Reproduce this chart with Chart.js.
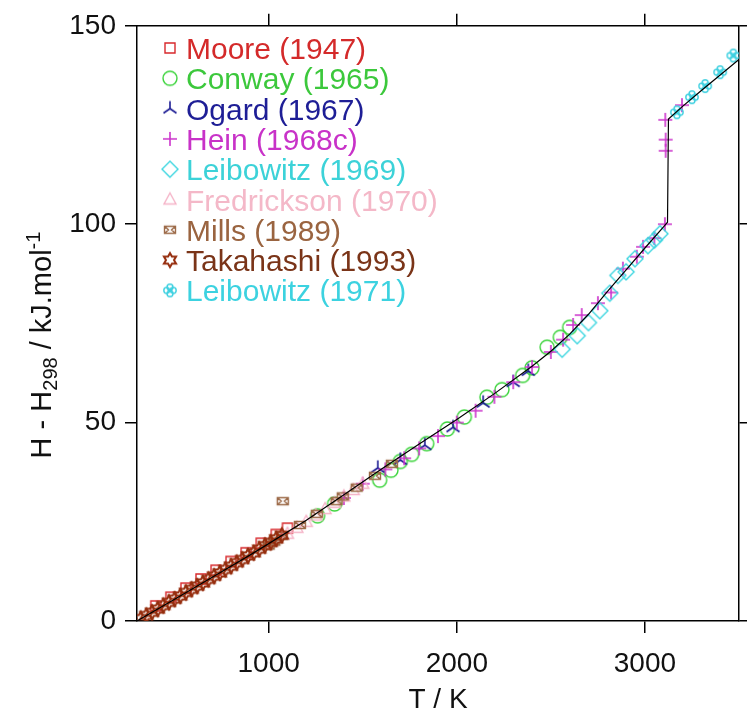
<!DOCTYPE html>
<html>
<head>
<meta charset="utf-8">
<script src="https://cdn.jsdelivr.net/npm/chart.js@4.4.1/dist/chart.umd.min.js"></script>
<style>
  html, body { margin: 0; padding: 0; background: #fff; }
  #wrap { width: 747px; height: 715px; }
</style>
</head>
<body>
<div id="wrap"><canvas id="chart" width="747" height="715"></canvas></div>
<script>
// ---- data (T in K, H - H298 in kJ/mol) ----
const fitT = [300, 500, 700, 900, 1000, 1200, 1400, 1600, 1800, 2000, 2200, 2400, 2500, 2600, 2700, 2800, 2900, 3000, 3100, 3120, 3125, 3200, 3300, 3400, 3500];
const fitH = [0, 5.5, 11, 16.6, 19.5, 25.4, 31.8, 38.3, 44.6, 50.8, 57.3, 64.2, 68.0, 72.3, 77.3, 83.0, 88.5, 94.0, 99.4, 100.5, 126.5, 129.7, 133.7, 137.6, 141.5];

const mooreT = [400, 480, 560, 640, 720, 800, 880, 960, 1040, 1100];
const mooreH = [3.8, 6.0, 8.3, 10.6, 12.8, 15.0, 17.2, 19.6, 21.8, 23.4];

const conwayT = [1260, 1350, 1590, 1650, 1700, 1760, 1840, 1950, 2040, 2160, 2240, 2350, 2400, 2480, 2550, 2600];
const conwayH = [26.5, 29.5, 35.5, 38.0, 40.2, 42.0, 44.7, 48.4, 51.4, 56.4, 58.3, 61.9, 63.8, 69.0, 71.5, 74.0];

const ogardT = [1580, 1700, 1830, 1980, 2140, 2300, 2380];
const ogardH = [38.6, 40.6, 44.3, 48.8, 55.0, 60.2, 63.0];

const heinT = [1400, 1500, 1620, 1720, 1800, 1900, 2000, 2100, 2200, 2300, 2400, 2500, 2565, 2618, 2664, 2750, 2820, 2883, 2957, 2990, 3050, 3106, 3110, 3110, 3108, 3197];
const heinH = [31.0, 34.6, 38.2, 41.0, 43.5, 46.6, 50.0, 53.0, 56.5, 60.2, 64.0, 67.8, 70.9, 74.6, 77.1, 80.1, 82.8, 88.8, 91.8, 94.3, 96.5, 100.0, 118.5, 121.3, 126.3, 130.0];

const leib69T = [2560, 2640, 2700, 2760, 2813, 2856, 2900, 2947, 3016, 3050, 3080];
const leib69H = [68.5, 71.9, 75.2, 78.2, 82.6, 87.1, 88.0, 91.3, 94.6, 96.0, 97.6];

const fredT = [1100, 1150, 1200, 1250, 1300, 1350, 1400, 1450, 1500];
const fredH = [22.0, 23.5, 25.0, 26.6, 28.2, 29.8, 31.4, 33.0, 34.6];

const millsT = [1000, 1030, 1070, 1075, 1166, 1256, 1361, 1394, 1468, 1565, 1655];
const millsH = [19.0, 20.0, 21.5, 30.2, 24.2, 27.0, 30.2, 31.4, 33.6, 36.6, 39.6];

const takaT = [320, 350, 380, 410, 440, 470, 500, 530, 560, 590, 620, 650, 680, 710, 740, 770, 800, 830, 860, 890, 920, 950, 980, 1010, 1040, 1070];
const takaH = [0.6, 1.4, 2.2, 3.0, 3.9, 4.7, 5.5, 6.3, 7.2, 8.0, 8.8, 9.6, 10.5, 11.3, 12.1, 13.0, 13.8, 14.7, 15.5, 16.4, 17.2, 18.1, 19.0, 19.8, 20.7, 21.6];

const leib71T = [3170, 3250, 3320, 3400, 3470];
const leib71H = [128.2, 132.0, 134.8, 138.3, 142.5];

const xTicks = [1000, 2000, 3000];
const yTicks = [0, 50, 100, 150];

const FONT = 'Liberation Sans, Arial, Helvetica, sans-serif';

// ---- marker glyphs drawn into small canvases ----
function makeMarker(shape, color) {
  const c = document.createElement('canvas');
  c.width = 24; c.height = 24;
  const g = c.getContext('2d');
  g.translate(12, 12);
  g.strokeStyle = color;
  g.lineWidth = 1.4;
  g.beginPath();
  if (shape === 'square') {
    g.rect(-5, -5, 10, 10);
  } else if (shape === 'circle') {
    g.arc(0, 0, 7, 0, Math.PI * 2);
  } else if (shape === 'tri') {
    g.lineWidth = 1.6;
    g.moveTo(0, 0); g.lineTo(0, -7.5);
    g.moveTo(0, 0); g.lineTo(-6.5, 4.5);
    g.moveTo(0, 0); g.lineTo(6.5, 4.5);
  } else if (shape === 'cross') {
    g.lineWidth = 1.6;
    g.moveTo(-7, 0); g.lineTo(7, 0);
    g.moveTo(0, -7); g.lineTo(0, 7);
  } else if (shape === 'diamond') {
    g.moveTo(0, -8); g.lineTo(8, 0); g.lineTo(0, 8); g.lineTo(-8, 0); g.closePath();
  } else if (shape === 'triangle') {
    g.moveTo(0, -6.5); g.lineTo(6, 4.5); g.lineTo(-6, 4.5); g.closePath();
  } else if (shape === 'bowtie') {
    g.rect(-5.5, -3.5, 11, 7);
    g.moveTo(-5.5, -3.5); g.lineTo(-1.5, 0); g.lineTo(-5.5, 3.5);
    g.moveTo(5.5, -3.5); g.lineTo(1.5, 0); g.lineTo(5.5, 3.5);
  } else if (shape === 'star6') {
    g.lineWidth = 2;
    for (let k = 0; k < 12; k++) {
      const r = k % 2 === 0 ? 7 : 4;
      const a = -Math.PI / 2 + k * Math.PI / 6;
      if (k === 0) g.moveTo(r * Math.cos(a), r * Math.sin(a));
      else g.lineTo(r * Math.cos(a), r * Math.sin(a));
    }
    g.closePath();
  } else if (shape === 'clover') {
    [[3.2, 0], [-3.2, 0], [0, 3.2], [0, -3.2]].forEach(p => {
      g.moveTo(p[0] + 3, p[1]);
      g.arc(p[0], p[1], 3, 0, Math.PI * 2);
    });
  }
  g.stroke();
  return c;
}

const series = [
  { name: 'Moore (1947)', T: mooreT, H: mooreH, shape: 'square', color: '#d8282c', text: '#d42a2a' },
  { name: 'Conway (1965)', T: conwayT, H: conwayH, shape: 'circle', color: '#3ad43a', text: '#3cc83c' },
  { name: 'Ogard (1967)', T: ogardT, H: ogardH, shape: 'tri', color: '#1c1c94', text: '#1e1e96' },
  { name: 'Hein (1968c)', T: heinT, H: heinH, shape: 'cross', color: '#cc33cc', text: '#c832c8' },
  { name: 'Leibowitz (1969)', T: leib69T, H: leib69H, shape: 'diamond', color: '#3dd6e0', text: '#3cd2d8' },
  { name: 'Fredrickson (1970)', T: fredT, H: fredH, shape: 'triangle', color: '#f5b4c8', text: '#f4b8c8' },
  { name: 'Mills (1989)', T: millsT, H: millsH, shape: 'bowtie', color: '#9c6a48', text: '#9a6440' },
  { name: 'Takahashi (1993)', T: takaT, H: takaH, shape: 'star6', color: '#962e0e', text: '#7a3418' },
  { name: 'Leibowitz (1971)', T: leib71T, H: leib71H, shape: 'clover', color: '#3dd0e0', text: '#3cd2e0' }
];
series.forEach(s => { s.marker = makeMarker(s.shape, s.color); });

const toPoints = (T, H) => T.map((t, i) => ({ x: t, y: H[i] }));

const datasets = [{
  label: 'fit',
  data: toPoints(fitT, fitH),
  showLine: true,
  borderColor: '#000',
  borderWidth: 1.2,
  pointRadius: 0,
  order: 0
}].concat(series.map((s, i) => ({
  label: s.name,
  data: toPoints(s.T, s.H),
  pointStyle: s.marker,
  pointRadius: 5,
  showLine: false,
  order: 10 - i
})));

// titles and in-plot legend
const decor = {
  id: 'decor',
  afterDraw(chart) {
    const ctx = chart.ctx;
    ctx.save();
    ctx.fillStyle = '#111';
    ctx.textBaseline = 'alphabetic';

    // y title with sub/superscript
    const big = '29px ' + FONT, small = '20px ' + FONT;
    const parts = [
      { t: 'H - H', f: big, dy: 0 },
      { t: '298', f: small, dy: 6 },
      { t: ' / kJ.mol', f: big, dy: 0 },
      { t: '-1', f: small, dy: -11 }
    ];
    let total = 0;
    parts.forEach(p => { ctx.font = p.f; p.w = ctx.measureText(p.t).width; total += p.w; });
    ctx.translate(51, 345);
    ctx.rotate(-Math.PI / 2);
    let x = -total / 2;
    ctx.textAlign = 'left';
    parts.forEach(p => { ctx.font = p.f; ctx.fillText(p.t, x, p.dy); x += p.w; });
    ctx.restore();

    // x title
    ctx.save();
    ctx.fillStyle = '#111';
    ctx.font = '28px ' + FONT;
    ctx.textAlign = 'center';
    ctx.textBaseline = 'alphabetic';
    const area = chart.chartArea;
    ctx.fillText('T / K', (area.left + area.right) / 2, 708);

    // legend
    ctx.font = '30px ' + FONT;
    ctx.textAlign = 'left';
    series.forEach((s, i) => {
      const cy = 48 + i * 30.3;
      ctx.drawImage(s.marker, 170 - 12, cy - 12);
      ctx.fillStyle = s.text;
      ctx.fillText(s.name, 186, cy + 11);
    });
    ctx.restore();
  }
};

const axisLine = { display: true, color: '#000', width: 1.5 };
const tickGrid = len => ({ display: true, drawOnChartArea: false, drawTicks: true, tickLength: len, color: '#000', lineWidth: 1.5 });
const tickFont = { family: FONT, size: 28 };
const plainLabel = v => String(v);

new Chart(document.getElementById('chart'), {
  type: 'scatter',
  data: { datasets },
  options: {
    responsive: false,
    animation: false,
    devicePixelRatio: 1,
    layout: { padding: 0 },
    plugins: { legend: { display: false }, tooltip: { enabled: false } },
    scales: {
      x: {
        type: 'linear', position: 'bottom', min: 300, max: 3500,
        afterBuildTicks: s => { s.ticks = xTicks.map(v => ({ value: v })); },
        afterFit: s => { s.height = 94; },
        grid: tickGrid(12), border: axisLine,
        ticks: { color: '#111', font: tickFont, padding: 14, maxRotation: 0, callback: plainLabel }
      },
      x2: {
        type: 'linear', axis: 'x', position: 'top', min: 300, max: 3500,
        afterBuildTicks: s => { s.ticks = xTicks.map(v => ({ value: v })); },
        afterFit: s => { s.height = 20; },
        grid: tickGrid(12), border: axisLine,
        ticks: { display: false }
      },
      y: {
        type: 'linear', position: 'left', min: 0, max: 150,
        afterBuildTicks: s => { s.ticks = yTicks.map(v => ({ value: v })); },
        afterFit: s => { s.width = 137; },
        grid: tickGrid(12), border: axisLine,
        ticks: { color: '#111', font: tickFont, padding: 9, callback: plainLabel }
      },
      y2: {
        type: 'linear', axis: 'y', position: 'right', min: 0, max: 150,
        afterBuildTicks: s => { s.ticks = yTicks.map(v => ({ value: v })); },
        afterFit: s => { s.width = 8; },
        grid: tickGrid(8), border: axisLine,
        ticks: { display: false }
      }
    }
  },
  plugins: [decor]
});
</script>
</body>
</html>
